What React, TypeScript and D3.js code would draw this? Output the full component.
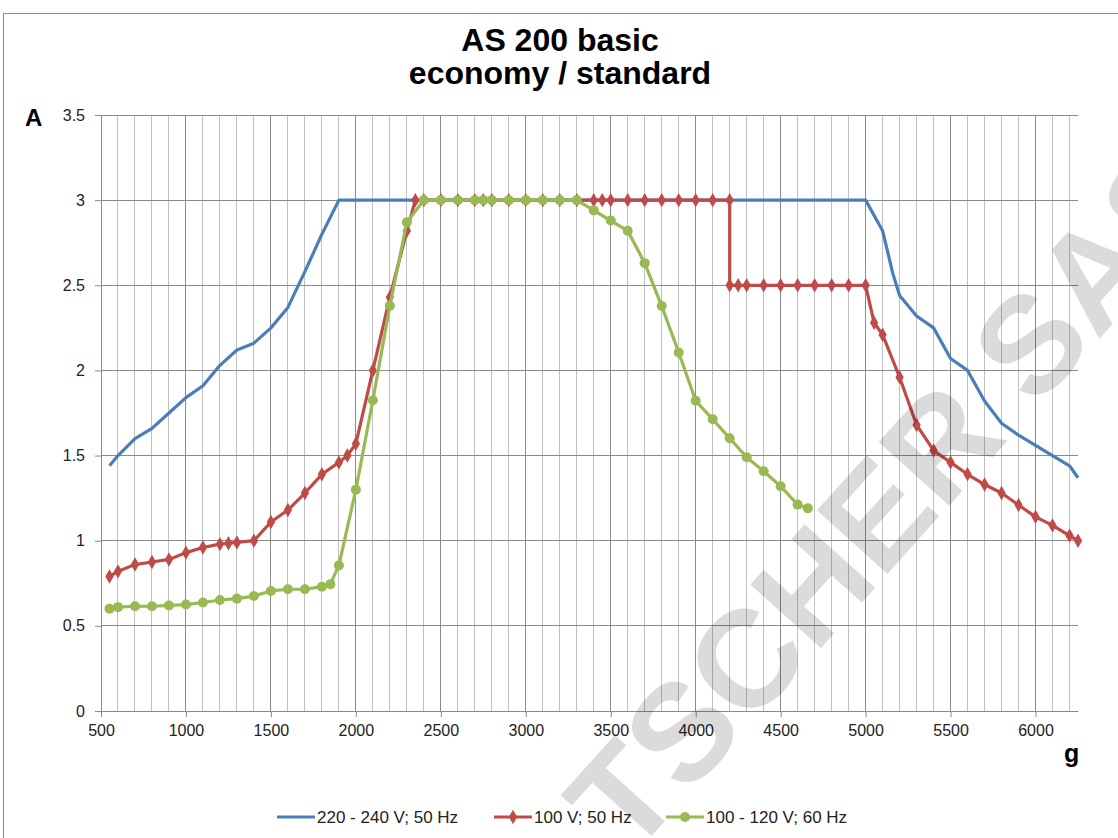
import React, { useEffect, useRef } from 'react';
import * as d3 from 'd3';

// 220 - 240 V; 50 Hz (no markers)
const blueX = [550, 600, 700, 800, 900, 1000, 1100, 1200, 1300, 1400, 1500, 1600, 1700, 1800, 1900, 5000, 5100, 5160, 5200, 5300, 5400, 5500, 5600, 5700, 5800, 5900, 6000, 6100, 6200, 6250];
const blueY = [1.44, 1.5, 1.6, 1.66, 1.75, 1.84, 1.91, 2.03, 2.12, 2.16, 2.25, 2.37, 2.58, 2.8, 3.0, 3.0, 2.82, 2.57, 2.44, 2.32, 2.25, 2.07, 2.0, 1.82, 1.69, 1.62, 1.56, 1.5, 1.44, 1.37];

// 100 V; 50 Hz (diamonds)
const redX = [550, 600, 700, 800, 900, 1000, 1100, 1200, 1250, 1300, 1400, 1500, 1600, 1700, 1800, 1900, 1950, 2000, 2100, 2200, 2300, 2350, 2400, 2500, 2600, 2700, 2750, 2800, 2900, 3000, 3100, 3200, 3300, 3400, 3450, 3500, 3600, 3700, 3800, 3900, 4000, 4100, 4200, 4200, 4250, 4300, 4400, 4500, 4600, 4700, 4800, 4900, 5000, 5050, 5100, 5200, 5300, 5400, 5500, 5600, 5700, 5800, 5900, 6000, 6100, 6200, 6250];
const redY = [0.79, 0.82, 0.86, 0.875, 0.89, 0.93, 0.96, 0.98, 0.985, 0.99, 1.0, 1.11, 1.18, 1.28, 1.39, 1.46, 1.5, 1.57, 2.0, 2.43, 2.82, 3.0, 3.0, 3.0, 3.0, 3.0, 3.0, 3.0, 3.0, 3.0, 3.0, 3.0, 3.0, 3.0, 3.0, 3.0, 3.0, 3.0, 3.0, 3.0, 3.0, 3.0, 3.0, 2.5, 2.5, 2.5, 2.5, 2.5, 2.5, 2.5, 2.5, 2.5, 2.5, 2.28, 2.21, 1.96, 1.68, 1.53, 1.46, 1.39, 1.33, 1.28, 1.21, 1.14, 1.09, 1.03, 1.0];

// 100 - 120 V; 60 Hz (circles)
const greenX = [550, 600, 700, 800, 900, 1000, 1100, 1200, 1300, 1400, 1500, 1600, 1700, 1800, 1850, 1900, 2000, 2100, 2200, 2300, 2400, 2500, 2600, 2700, 2750, 2800, 2900, 3000, 3100, 3200, 3300, 3400, 3500, 3600, 3700, 3800, 3900, 4000, 4100, 4200, 4300, 4400, 4500, 4600, 4660];
const greenY = [0.6, 0.61, 0.615, 0.615, 0.62, 0.625, 0.637, 0.652, 0.66, 0.675, 0.705, 0.715, 0.715, 0.73, 0.745, 0.855, 1.3, 1.825, 2.38, 2.87, 3.0, 3.0, 3.0, 3.0, 3.0, 3.0, 3.0, 3.0, 3.0, 3.0, 3.0, 2.94, 2.88, 2.82, 2.63, 2.378, 2.105, 1.822, 1.713, 1.602, 1.49, 1.408, 1.32, 1.212, 1.19];

const seriesNames = ['220 - 240 V; 50 Hz', '100 V; 50 Hz', '100 - 120 V; 60 Hz'];
const colors = ['#4a7ebb', '#be4b48', '#98b954'];

const xMajor = d3.range(500, 6001, 500);
const xMinor = d3.range(600, 6250, 100).filter(v => v % 500 !== 0);
const yTicks = [0, 0.5, 1, 1.5, 2, 2.5, 3, 3.5];

const FONT = '"Liberation Sans", Arial, sans-serif';

const App: React.FC = () => {
  const svgRef = useRef<SVGSVGElement | null>(null);

  useEffect(() => {
    const width = 1118;
    const height = 838;
    const svg = d3.select(svgRef.current);
    svg.selectAll('*').remove();
    svg.attr('width', width).attr('height', height).style('font-family', FONT);

    svg.append('rect').attr('width', width).attr('height', height).attr('fill', '#fff');
    // chart border
    svg.append('rect')
      .attr('x', 3.5).attr('y', 13.5).attr('width', 1130).attr('height', 840)
      .attr('fill', 'none').attr('stroke', '#8c8c8c');

    const x = d3.scaleLinear().domain([500, 6250]).range([101, 1078]);
    const y = d3.scaleLinear().domain([0, 3.5]).range([711, 115]);

    // title
    svg.append('text').attr('x', 560).attr('y', 51).attr('text-anchor', 'middle')
      .attr('font-size', 32).attr('font-weight', 'bold').text('AS 200 basic');
    svg.append('text').attr('x', 560).attr('y', 84).attr('text-anchor', 'middle')
      .attr('font-size', 32).attr('font-weight', 'bold').text('economy / standard');

    // gridlines
    const grid = svg.append('g');
    grid.selectAll('line.minor').data(xMinor).join('line')
      .attr('x1', d => x(d)).attr('x2', d => x(d)).attr('y1', y(3.5)).attr('y2', y(0))
      .attr('stroke', '#c0c0c0').attr('stroke-width', 1).attr('shape-rendering', 'crispEdges');
    grid.selectAll('line.major').data(xMajor).join('line')
      .attr('x1', d => x(d)).attr('x2', d => x(d)).attr('y1', y(3.5)).attr('y2', y(0))
      .attr('stroke', '#8a8a8a').attr('stroke-width', 1).attr('shape-rendering', 'crispEdges');
    svg.append('g').selectAll('line').data(yTicks).join('line')
      .attr('x1', x(500)).attr('x2', x(6250)).attr('y1', d => y(d)).attr('y2', d => y(d))
      .attr('stroke', '#8a8a8a').attr('stroke-width', 1).attr('shape-rendering', 'crispEdges');

    // axes
    svg.append('g')
      .attr('transform', `translate(${x(500)},0)`)
      .call(d3.axisLeft(y).tickValues(yTicks).tickSize(6).tickPadding(10).tickFormat(d => String(d)))
      .call(g => g.select('.domain').attr('stroke', '#8a8a8a'))
      .call(g => g.selectAll('line').attr('stroke', '#8a8a8a'))
      .call(g => g.selectAll('text').attr('font-size', 16).attr('font-family', FONT).attr('fill', '#222'));

    svg.append('g')
      .attr('transform', `translate(0,${y(0)})`)
      .call(d3.axisBottom(x).tickValues(xMajor).tickSize(6).tickSizeOuter(0).tickPadding(8).tickFormat(d => String(d)))
      .call(g => g.select('.domain').attr('stroke', '#8a8a8a'))
      .call(g => g.selectAll('line').attr('stroke', '#8a8a8a'))
      .call(g => g.selectAll('text').attr('font-size', 16).attr('font-family', FONT).attr('fill', '#222'));

    // axis titles
    svg.append('text').attr('x', 25).attr('y', 126).attr('font-size', 24).attr('font-weight', 'bold').text('A');
    svg.append('text').attr('x', 1064).attr('y', 762).attr('font-size', 25).attr('font-weight', 'bold').text('g');

    const line = d3.line<[number, number]>().x(d => x(d[0])).y(d => y(d[1]));
    const zip = (xs: number[], ys: number[]) => xs.map((v, i) => [v, ys[i]] as [number, number]);

    const blue = zip(blueX, blueY);
    const red = zip(redX, redY);
    const green = zip(greenX, greenY);

    const plot = svg.append('g');
    plot.append('path').attr('d', line(blue)).attr('fill', 'none').attr('stroke', colors[0])
      .attr('stroke-width', 3.2).attr('stroke-linejoin', 'round');
    plot.append('path').attr('d', line(red)).attr('fill', 'none').attr('stroke', colors[1])
      .attr('stroke-width', 3.2).attr('stroke-linejoin', 'round');
    plot.append('g').selectAll('path').data(red).join('path')
      .attr('transform', d => `translate(${x(d[0])},${y(d[1])})`)
      .attr('d', d3.symbol(d3.symbolDiamond, 60)())
      .attr('fill', colors[1]);
    plot.append('path').attr('d', line(green)).attr('fill', 'none').attr('stroke', colors[2])
      .attr('stroke-width', 3.2).attr('stroke-linejoin', 'round');
    plot.append('g').selectAll('circle').data(green).join('circle')
      .attr('cx', d => x(d[0])).attr('cy', d => y(d[1])).attr('r', 5)
      .attr('fill', colors[2]);

    // legend
    const legendItems = [
      { x0: 277, x1: 315, tx: 317, marker: 'none' },
      { x0: 494, x1: 532, tx: 534, marker: 'diamond' },
      { x0: 666, x1: 704, tx: 706, marker: 'circle' },
    ];
    const ly = 817;
    const legend = svg.append('g');
    legendItems.forEach((it, i) => {
      legend.append('line').attr('x1', it.x0).attr('x2', it.x1).attr('y1', ly).attr('y2', ly)
        .attr('stroke', colors[i]).attr('stroke-width', 3);
      const cx = (it.x0 + it.x1) / 2;
      if (it.marker === 'diamond') {
        legend.append('path').attr('transform', `translate(${cx},${ly})`)
          .attr('d', d3.symbol(d3.symbolDiamond, 60)()).attr('fill', colors[i]);
      } else if (it.marker === 'circle') {
        legend.append('circle').attr('cx', cx).attr('cy', ly).attr('r', 5).attr('fill', colors[i]);
      }
      legend.append('text').attr('x', it.tx).attr('y', ly + 6).attr('font-size', 17)
        .attr('fill', '#222').text(seriesNames[i]);
    });

    // watermark (cut by the chart edge, as in the source image)
    svg.append('text')
      .attr('transform', 'translate(630,860) rotate(-48)')
      .attr('font-size', 138).attr('font-weight', 'bold')
      .attr('fill', '#000').attr('fill-opacity', 0.14)
      .text('TSCHER SAS');
  }, []);

  return (
    <div style={{ position: 'absolute', left: 0, top: 0, width: 1118, height: 838, overflow: 'hidden' }}>
      <svg ref={svgRef}></svg>
    </div>
  );
};

export default App;
